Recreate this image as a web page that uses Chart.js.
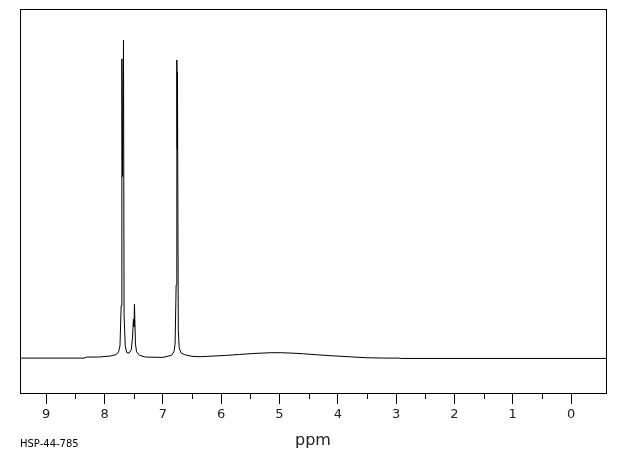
<!DOCTYPE html>
<html>
<head>
<meta charset="utf-8">
<script src="https://cdn.jsdelivr.net/npm/chart.js@4.4.1/dist/chart.umd.min.js"></script>
<style>
    body { margin: 0; background: #fff; }
</style>
</head>
<body>
<canvas id="nmrChart" width="620" height="455"></canvas>
<script>
// chemical shift (ppm) of each point
const shiftPpm = [
    9.45, 8.35, 8.30, 8.10, 7.90, 7.80, 7.76, 7.735, 7.715, 7.703, 7.69, 7.675, 7.665, 7.645, 7.62,
    7.58, 7.54, 7.52, 7.504, 7.495, 7.487, 7.47, 7.45, 7.40, 7.30, 7.00, 6.85, 6.81, 6.79, 6.772,
    6.760, 6.755, 6.750, 6.735, 6.72, 6.69, 6.63, 6.50, 6.36, 5.93, 5.68, 5.42, 5.16, 4.96, 4.79,
    4.59, 4.36, 4.10, 3.79, 3.51, 3.22, 2.95, 2.93, -0.6
];
// intensity at each shift (baseline = 0, top of frame = 100)
const intensity = [
    0, 0, 0.3, 0.3, 0.6, 1.0, 1.8, 3.5, 15, 85.7, 52, 91.1, 12, 3.5, 1.6,
    1.4, 2.5, 6, 11.2, 9, 15.5, 4, 1.8, 0.8, 0.3, 0.2, 0.8, 1.8, 4, 21,
    85.4, 60, 82, 8, 3, 1.5, 1.0, 0.5, 0.4, 0.76, 1.05, 1.34, 1.53, 1.53, 1.43,
    1.24, 0.95, 0.66, 0.37, 0.1, 0, 0, -0.1, -0.1
];
// labelled ticks and the short half-ppm ticks
const majorTicks = [9, 8, 7, 6, 5, 4, 3, 2, 1, 0];
const minorTicks = [8.5, 7.5, 6.5, 5.5, 4.5, 3.5, 2.5, 1.5, 0.5];

const spectrumPoints = shiftPpm.map((p, i) => ({ x: p, y: intensity[i] }));

// frame, minor ticks and the sample code
const framePlugin = {
    id: 'frame',
    afterDraw(chart) {
        const ctx = chart.ctx;
        const area = chart.chartArea;
        const xScale = chart.scales.x;
        ctx.save();
        ctx.strokeStyle = '#000';
        ctx.lineWidth = 1;
        ctx.strokeRect(area.left + 0.5, area.top + 0.5, area.right - area.left, area.bottom - area.top);

        ctx.beginPath();
        minorTicks.forEach(v => {
            const px = Math.round(xScale.getPixelForValue(v)) + 0.5;
            ctx.moveTo(px, area.bottom);
            ctx.lineTo(px, area.bottom + 6);
        });
        ctx.stroke();

        ctx.fillStyle = '#000';
        ctx.font = '10px "DejaVu Sans"';
        ctx.textBaseline = 'middle';
        ctx.fillText('HSP-44-785', 20, 444);
        ctx.restore();
    }
};

new Chart(document.getElementById('nmrChart'), {
    type: 'line',
    data: {
        datasets: [{
            data: spectrumPoints,
            borderColor: '#000',
            borderWidth: 1,
            pointRadius: 0,
            tension: 0,
            fill: false
        }]
    },
    options: {
        responsive: false,
        animation: false,
        layout: { padding: { left: 20, right: 14, top: 9, bottom: 0 } },
        plugins: {
            legend: { display: false },
            tooltip: { enabled: false }
        },
        scales: {
            x: {
                type: 'linear',
                reverse: true,
                min: -0.6,
                max: 9.45,
                afterBuildTicks: scale => {
                    scale.ticks = majorTicks.map(v => ({ value: v }));
                },
                afterFit: scale => {
                    scale.height = 62;
                },
                grid: {
                    display: true,
                    drawOnChartArea: false,
                    drawTicks: true,
                    tickLength: 11,
                    color: '#000'
                },
                border: { display: true, color: '#000' },
                ticks: {
                    padding: 3,
                    color: '#222',
                    maxRotation: 0,
                    font: { family: 'DejaVu Sans', size: 13 },
                    callback: value => String(value)
                },
                title: {
                    display: true,
                    text: 'ppm',
                    color: '#222',
                    padding: { top: 0, bottom: 5 },
                    font: { family: 'DejaVu Sans', size: 16 }
                }
            },
            y: {
                display: false,
                min: -10,
                max: 100
            }
        }
    },
    plugins: [framePlugin]
});
</script>
</body>
</html>
